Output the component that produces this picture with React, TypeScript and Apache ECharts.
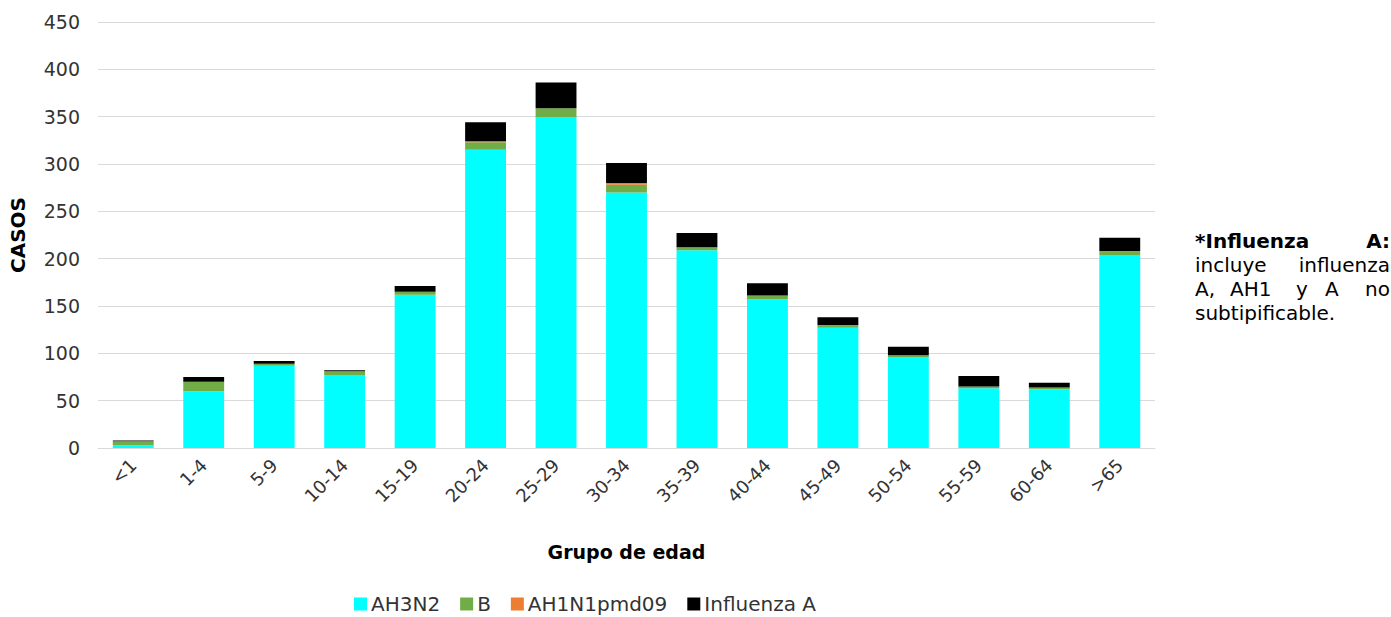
import React, { useEffect, useRef } from "react";
import * as echarts from "echarts";

const categories = ["<1", "1-4", "5-9", "10-14", "15-19", "20-24", "25-29", "30-34", "35-39", "40-44", "45-49", "50-54", "55-59", "60-64", ">65"];
const ah3n2 = [3, 60, 87, 77, 162, 315, 349, 270, 209, 157, 127, 96, 63, 62, 204];
const bVals = [4, 10, 2, 4, 3, 8, 10, 8, 3, 4, 2, 2, 2, 2, 3];
const ah1n1 = [0, 0, 0, 0, 0, 1, 0, 2, 0, 0, 1, 0, 0, 0, 1];
const influenzaA = [1, 5, 3, 1, 6, 20, 27, 21, 15, 13, 8, 9, 11, 5, 14];

const FONT = "DejaVu Sans";
const TXT = "#333333";

export default function App() {
  const ref = useRef<HTMLDivElement>(null);
  useEffect(() => {
    if (!ref.current) return;
    const chart = echarts.init(ref.current, undefined, { renderer: "svg" });
    const mk = (name: string, data: number[], color: string) => ({
      name,
      type: "bar",
      stack: "total",
      data,
      barWidth: "58%",
      itemStyle: { color },
    });
    const noteStyle = { fontFamily: FONT, fontSize: 20, fill: "#000" };
    const boldStyle = { ...noteStyle, fontWeight: "bold" };
    chart.setOption({
      animation: false,
      textStyle: { fontFamily: FONT },
      grid: { left: 93, right: 236, top: 22, bottom: 169 },
      legend: {
        top: 592,
        left: 352,
        itemWidth: 13,
        itemHeight: 13,
        itemGap: 20,
        icon: "rect",
        padding: 2,
        textStyle: { fontFamily: FONT, fontSize: 20, lineHeight: 20, color: TXT, padding: [0, 0, 0, -1] },
        data: ["AH3N2", "B", "AH1N1pmd09", "Influenza A"],
      },
      xAxis: {
        type: "category",
        data: categories,
        name: "Grupo de edad",
        nameLocation: "middle",
        nameGap: 94,
        nameTextStyle: { fontFamily: FONT, fontSize: 19, fontWeight: "bold", color: "#000" },
        axisLine: { lineStyle: { color: "#d9d9d9" } },
        axisTick: { show: false },
        axisLabel: { rotate: 45, fontSize: 18, color: TXT, fontFamily: FONT, margin: 14 },
      },
      yAxis: {
        type: "value",
        min: 0,
        max: 450,
        interval: 50,
        name: "CASOS",
        nameLocation: "middle",
        nameGap: 70,
        nameRotate: 90,
        nameTextStyle: { fontFamily: FONT, fontSize: 20, fontWeight: "bold", color: "#000" },
        axisLabel: { fontSize: 19, color: TXT, fontFamily: FONT, margin: 18 },
        splitLine: { lineStyle: { color: "#d9d9d9" } },
      },
      series: [
        mk("AH3N2", ah3n2, "#00FFFF"),
        mk("B", bVals, "#70AD47"),
        mk("AH1N1pmd09", ah1n1, "#ED7D31"),
        mk("Influenza A", influenzaA, "#000000"),
      ],
      graphic: [
        { type: "text", left: 1195, top: 231, style: { ...boldStyle, text: "*Influenza" } },
        { type: "text", right: 1, top: 231, style: { ...boldStyle, text: "A:" } },
        { type: "text", left: 1195, top: 255, style: { ...noteStyle, text: "incluye" } },
        { type: "text", right: 1, top: 255, style: { ...noteStyle, text: "influenza" } },
        { type: "text", left: 1195, top: 279, style: { ...noteStyle, text: "A," } },
        { type: "text", left: 1230, top: 279, style: { ...noteStyle, text: "AH1" } },
        { type: "text", left: 1296, top: 279, style: { ...noteStyle, text: "y" } },
        { type: "text", left: 1325, top: 279, style: { ...noteStyle, text: "A" } },
        { type: "text", right: 1, top: 279, style: { ...noteStyle, text: "no" } },
        { type: "text", left: 1195, top: 303, style: { ...noteStyle, text: "subtipificable." } },
      ],
    } as any);
    return () => chart.dispose();
  }, []);
  return (
    <div
      ref={ref}
      style={{ position: "absolute", left: 0, top: 0, width: 1391, height: 617, background: "#fff" }}
    />
  );
}
